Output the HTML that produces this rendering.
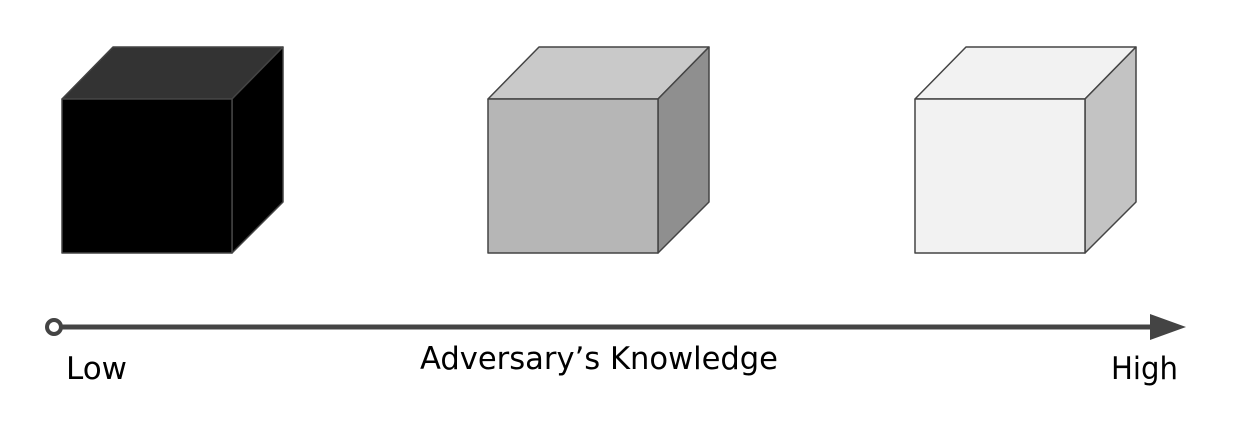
<!DOCTYPE html>
<html><head><meta charset="utf-8"><style>html,body{margin:0;padding:0;background:#fff}svg{display:block}</style></head>
<body>
<svg width="1238" height="430" viewBox="0 0 1238 430" font-family="'DejaVu Sans','Liberation Sans',sans-serif">
<g stroke="#444" stroke-width="1.5" stroke-linejoin="round">
 <g>
  <polygon points="62,99 113,47 283,47 232,99" fill="#333"/>
  <polygon points="232,99 283,47 283,202 232,253" fill="#000"/>
  <rect x="62" y="99" width="170" height="154" fill="#000"/>
 </g>
 <g>
  <polygon points="488,99 539,47 709,47 658,99" fill="#c9c9c9"/>
  <polygon points="658,99 709,47 709,202 658,253" fill="#8f8f8f"/>
  <rect x="488" y="99" width="170" height="154" fill="#b6b6b6"/>
 </g>
 <g>
  <polygon points="915,99 966,47 1136,47 1085,99" fill="#f2f2f2"/>
  <polygon points="1085,99 1136,47 1136,202 1085,253" fill="#c3c3c3"/>
  <rect x="915" y="99" width="170" height="154" fill="#f2f2f2"/>
 </g>
</g>
<g>
 <line x1="61" y1="327" x2="1155" y2="327" stroke="#444" stroke-width="5"/>
 <circle cx="54" cy="327" r="7" fill="#fff" stroke="#444" stroke-width="4"/>
 <polygon points="1150,314 1186,327 1150,340" fill="#444"/>
</g>
<text x="66" y="379" font-size="31" textLength="61" lengthAdjust="spacingAndGlyphs" fill="#000">Low</text>
<text x="420" y="369" font-size="31" textLength="358" lengthAdjust="spacingAndGlyphs" fill="#000">Adversary’s Knowledge</text>
<text x="1111" y="379" font-size="31" textLength="67" lengthAdjust="spacingAndGlyphs" fill="#000">High</text>
</svg>
</body></html>
